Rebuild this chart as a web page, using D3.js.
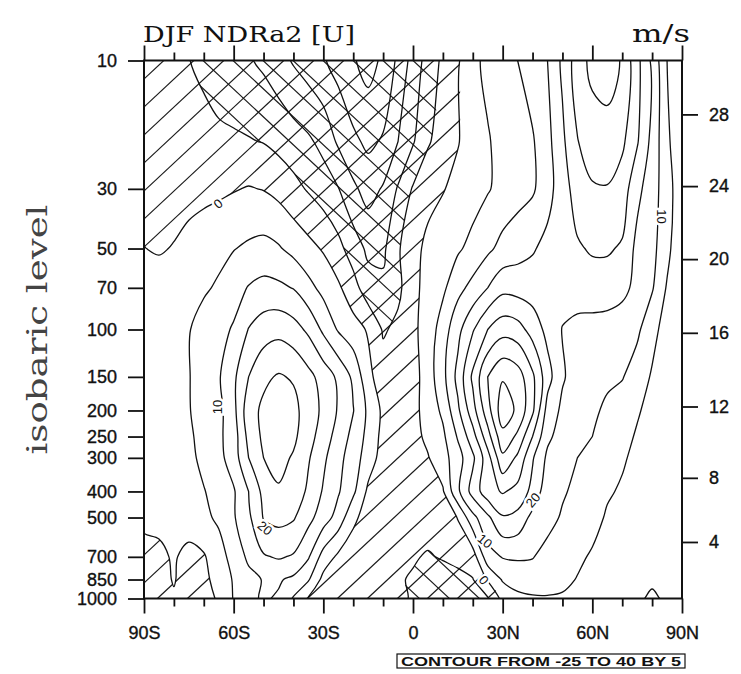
<!DOCTYPE html>
<html lang="en">
<head>
<meta charset="UTF-8">
<title>DJF NDRa2 [U]</title>
<script src="https://cdnjs.cloudflare.com/ajax/libs/d3/7.8.5/d3.min.js"></script>
<style>
    body { margin: 0; background: #fff; }
    svg { display: block; }
    .tick text { font-family: "Liberation Sans", Arial, sans-serif; font-size: 18px; fill: #111; stroke: #111; stroke-width: 0.35; }
    .tick line { stroke: #111; stroke-width: 1.8; }
</style>
</head>
<body>
<div id="chart"></div>
<script>
// latitude grid (deg, 90S -> 90N) and pressure levels (hPa, top -> bottom)
const lats = [-90, -85, -80, -75, -70, -65, -60, -55, -50, -45, -40, -35, -30, -25, -20, -15, -10, -5,
              0, 5, 10, 15, 20, 25, 30, 35, 40, 45, 50, 55, 60, 65, 70, 75, 80, 85, 90];
const levels = [10, 20, 30, 50, 70, 100, 150, 200, 250, 300, 400, 500, 700, 850, 1000];

// zonal mean U (m/s) on each level
const u10   = [-2, -3, -4, -4.9, -6, -7.5, -8.5, -9.5, -11, -13, -15.5, -17.5, -19.5, -22, -24.5, -27, -24, -19,
               -13, -8, -4, -0.5, 3.5, 6.5, 8.5, 10, 12.5, 15, 21, 27.5, 31.5, 32.5, 29.5, 21.5, 14, 5, 1];
const u20   = [-1.5, -2, -2.5, -3, -3.5, -4, -4.3, -4.7, -5.2, -6.5, -7.8, -9.2, -11.5, -15.8, -19, -21, -19.5, -15,
               -10.5, -5.5, -3, -0.3, 2.5, 4.5, 7, 8.5, 9.5, 13.5, 19, 24.8, 27.5, 28, 26, 20.5, 13.5, 6, 1];
const u30   = [-2.5, -2.5, -2.3, -2, -1.5, -1, -0.3, 0.3, -0.2, -1.5, -3.5, -5.5, -7.5, -9.8, -14, -17, -14.5, -9.5,
               -4.5, -2, -0.3, 1.5, 2.8, 4.6, 6.5, 8, 9.3, 13, 18, 22, 24.5, 24.7, 22.5, 16.5, 12, 7.5, 1];
const u50   = [0.1, -0.5, 0.3, 1.8, 3, 4, 4.8, 5.8, 6.5, 5.5, 3.5, 1.5, -0.5, -3.5, -7.5, -11, -11, -5.5,
               -2, 1.5, 3, 4.3, 6.5, 9, 11.5, 13, 14.5, 16.5, 18, 19.5, 20.5, 20.5, 19.5, 13.5, 11.5, 6.5, 0.5];
const u70   = [2, 2.5, 3, 4, 4.5, 5.5, 8, 10.3, 11.5, 11, 9.8, 6.5, 3.5, 0.8, -3, -8, -9, -6,
               -2, 2.5, 4, 8.5, 11.5, 15, 18.5, 18, 17.5, 17, 17, 17.5, 18, 18, 16.5, 13.5, 10.5, 4.5, 0.5];
const u100  = [3, 3.5, 4, 4.8, 6.5, 8.5, 10.5, 15.2, 17.5, 18.5, 17, 14, 9, 4.5, 2, -0.5, -5.5, -4,
               -1, 2, 7.5, 13.5, 19.5, 25, 28, 27, 23, 18.5, 14.8, 13.5, 13, 12.5, 12, 11, 6.5, 3, 1];
const u150  = [3, 3.5, 4, 4.8, 7, 9.5, 14, 20, 24, 25.5, 24.5, 21.5, 18, 14, 9, 1.5, -3, -4,
               -2, 2.5, 8.5, 16.5, 26, 35, 39.5, 37.5, 31, 22, 15.5, 13, 11.5, 11, 10.3, 7.5, 4.5, 2.5, 1];
const u200  = [3, 3.2, 3.8, 4.8, 6.5, 8.5, 13.5, 23, 26, 27.5, 26.5, 22.5, 19, 14.5, 10.2, 4, -1, -3,
               -1.5, 2, 6, 14, 23, 33, 43, 39, 31, 18, 14, 12.5, 11, 9, 7.5, 5.5, 3.5, 2, 1];
const u250  = [2.5, 3, 3.5, 4.5, 6, 9, 12.5, 21.5, 26, 27.5, 26, 22, 17.5, 13, 8.5, 3.5, -1.5, -3,
               -1.5, 1, 4, 10.5, 18, 28, 38.5, 34, 25, 16, 13, 11.5, 10, 8, 6.5, 4.5, 3, 1.5, 1];
const u300  = [2, 2.5, 3, 4, 6, 8.5, 12.5, 20, 25, 26.5, 24.5, 20.5, 16, 11.5, 7.5, 2.5, -2, -3,
               -2, -0.3, 3, 8, 14, 23, 34, 29, 20.5, 14, 11.5, 10, 8.5, 6.5, 5.5, 4, 2.5, 1.5, 1];
const u400  = [1.5, 2, 2.5, 3.5, 4.8, 6.5, 9.5, 15, 21.5, 24.5, 23.5, 19, 14.5, 10.5, 6, -1, -3.5, -3.5,
               -2.5, -1.5, -0.5, 9, 17, 23, 25.5, 23.5, 18.5, 12, 10.5, 9, 7.5, 5.5, 4.5, 3, 2, 1.5, 1];
const u500  = [1, 1.2, 1.5, 2.5, 4, 5.8, 9.5, 14, 20.3, 21.5, 20.5, 16.5, 12.5, 8, 1, -2, -3.5, -3.5,
               -3, -2.5, -3, 0.2, 8.5, 14, 19.5, 18.5, 13.5, 11.5, 9.5, 8, 6.5, 4.5, 3.5, 2.5, 1.5, 1, 1];
const u700  = [-1.5, -1, 0.5, -1.5, -0.5, 3, 6.8, 11, 14.5, 15.5, 14.5, 10.5, 3, -1, -2.5, -3, -3.5, -4,
               -4.5, -5.5, -4.5, -3, -2.5, 8, 10.3, 10.5, 10.2, 8.5, 7, 5.8, 4.5, 3.5, 2.5, 1.5, 1, 0.5, 0.5];
const u850  = [-2, -1.5, 0.3, -2, -1, 1.5, 5.5, 8.5, 10.3, 10.5, 9, 5.5, -1.5, -3, -4, -4, -4.5, -4.5,
               -5.5, -7, -7.5, -7, -5.2, 0.5, 5.5, 7.5, 8, 7.5, 6, 4.8, 4, 3, 2, 1, 0.3, 0.5, 0.5];
const u1000 = [-2, -2, -0.5, -2.5, -1.5, 0.5, 5.3, 9, 10.5, 9.5, 4.5, -0.5, -3, -3.5, -4, -4, -4.5, -4.6,
               -5.2, -6.5, -7.5, -7.5, -7, -5.5, 1.5, 3.5, 4.3, 4.5, 4.5, 4.2, 3.5, 2.5, 1.5, 0.3, -0.3, 0.3, 0.5];

const contourLevels = [-25, -20, -15, -10, -5, 0, 5, 10, 15, 20, 25, 30, 35, 40];
const hatchLevels = [0, -5];   // "/" below the first, cross-hatch below the second

const latTicks = [-90, -60, -30, 0, 30, 60, 90];
const latLabels = ["90S", "60S", "30S", "0", "30N", "60N", "90N"];
const latMinor = [-80, -70, -50, -40, -20, -10, 10, 20, 40, 50, 70, 80];
const pTicks = [10, 30, 50, 70, 100, 150, 200, 250, 300, 400, 500, 700, 850, 1000];
const zTicks = [4, 8, 12, 16, 20, 24, 28];

// contour labels: [lat, hPa, text, rotation]
const contourLabels = [
    [-65.2, 34, "0", -40],
    [-65.6, 194, "10", -90],
    [-49.5, 547, "20", 40],
    [40.1, 430, "20", -50],
    [24.1, 611, "10", 40],
    [23.7, 853, "0", 50],
    [83.3, 38, "10", 90]
];

const width = 741, height = 674;
const margin = { top: 60.5, right: 59, bottom: 75.5, left: 144 };
const x0 = margin.left, x1 = width - margin.right;
const y0 = margin.top, y1 = height - margin.bottom;

const svg = d3.select("#chart").append("svg")
    .attr("width", width)
    .attr("height", height)
    .style("background", "#fff");

const x = d3.scaleLinear().domain([-90, 90]).range([x0, x1]);
const y = d3.scaleLog().domain([10, 1000]).range([y0, y1]);

// standard atmosphere height (km) -> pressure (hPa), for the right axis
function stdPressure(z) {
    if (z <= 11) return 1013.25 * Math.pow(1 - 0.0225577 * z, 5.25588);
    if (z <= 20) return 226.321 * Math.exp(-0.157688 * (z - 11));
    return 54.7489 * Math.pow(216.65 / (216.65 + (z - 20)), 34.1632);
}

const rows = [u10, u20, u30, u50, u70, u100, u150, u200, u250, u300, u400, u500, u700, u850, u1000];
const nx = lats.length, ny = levels.length;
const values = rows.flat();

// d3.contours grid coords (value i sits at i + 0.5) -> pixels
const dLat = lats[1] - lats[0];
const gx = c => x(lats[0] + (c - 0.5) * dLat);
const gy = c => {
    const r = c - 0.5;
    const j = Math.max(0, Math.min(ny - 2, Math.floor(r)));
    const t = r - j;
    const a = Math.log(levels[j]), b = Math.log(levels[j + 1]);
    return y(Math.exp(a + t * (b - a)));
};
const ringLine = d3.line().curve(d3.curveCatmullRomClosed.alpha(0.5));
const ringPath = mp => mp.coordinates.map(poly => poly.map(ring =>
    ringLine(ring.slice(0, -1).map(([cx, cy]) => [gx(cx), gy(cy)]))).join("")).join("");

const defs = svg.append("defs");
defs.append("clipPath").attr("id", "plot-area")
    .append("rect")
    .attr("x", x0).attr("y", y0)
    .attr("width", x1 - x0).attr("height", y1 - y0);

// negative regions for the hatching
const negative = d3.contours().size([nx, ny])
    .thresholds(hatchLevels.map(v => -v))(values.map(v => -v));
negative.forEach((mp, i) => {
    defs.append("clipPath").attr("id", "neg" + i)
        .append("path")
        .attr("clip-rule", "evenodd")
        .attr("d", ringPath(mp));
});

const plot = svg.append("g").attr("clip-path", "url(#plot-area)");

// hatch lines
const hx = 30, hy = 28, reach = 25;
const hatchStarts = d3.range(-20, 32);
plot.append("g")
    .attr("clip-path", "url(#neg0)")
    .selectAll("line")
    .data(hatchStarts)
    .join("line")
    .attr("x1", k => x0 + 13.4 + k * hx)
    .attr("y1", y1)
    .attr("x2", k => x0 + 13.4 + k * hx + hx * reach)
    .attr("y2", y1 - hy * reach)
    .attr("stroke", "#1a1a1a")
    .attr("stroke-width", 1.2);

plot.append("g")
    .attr("clip-path", "url(#neg1)")
    .selectAll("line")
    .data(hatchStarts)
    .join("line")
    .attr("x1", k => x0 + 119 + k * hx - hx * reach)
    .attr("y1", y0 - hy * reach)
    .attr("x2", k => x0 + 119 + k * hx + hx * reach)
    .attr("y2", y0 + hy * reach)
    .attr("stroke", "#1a1a1a")
    .attr("stroke-width", 1.2);

// contour lines
const isolines = d3.contours().size([nx, ny]).thresholds(contourLevels)(values);
plot.append("g")
    .selectAll("path")
    .data(isolines)
    .join("path")
    .attr("d", ringPath)
    .attr("fill", "none")
    .attr("stroke", "#111")
    .attr("stroke-width", 1.3);

// contour labels
plot.append("g")
    .selectAll("text")
    .data(contourLabels)
    .join("text")
    .attr("transform", d => `translate(${x(d[0])},${y(d[1])}) rotate(${d[3]})`)
    .attr("text-anchor", "middle")
    .attr("dy", "0.36em")
    .attr("stroke", "#fff")
    .attr("stroke-width", 5)
    .attr("paint-order", "stroke")
    .style("font-family", "'Liberation Sans', Arial, sans-serif")
    .style("font-size", "13px")
    .attr("fill", "#111")
    .text(d => d[2]);

// axes
const noDomain = g => g.select(".domain").remove();

svg.append("g")
    .attr("transform", `translate(0,${y1})`)
    .call(d3.axisBottom(x).tickValues(latTicks).tickSize(15).tickPadding(13)
        .tickFormat((d, i) => latLabels[i]))
    .call(noDomain);
svg.append("g")
    .attr("transform", `translate(0,${y1})`)
    .call(d3.axisBottom(x).tickValues(latMinor).tickSize(8).tickFormat(""))
    .call(noDomain);
svg.append("g")
    .attr("transform", `translate(0,${y0})`)
    .call(d3.axisTop(x).tickValues(latTicks).tickSize(15).tickFormat(""))
    .call(noDomain);
svg.append("g")
    .attr("transform", `translate(0,${y0})`)
    .call(d3.axisTop(x).tickValues(latMinor).tickSize(8).tickFormat(""))
    .call(noDomain);

svg.append("g")
    .attr("transform", `translate(${x0},0)`)
    .call(d3.axisLeft(y).tickValues(pTicks).tickSize(16).tickPadding(11)
        .tickFormat(d3.format("d")))
    .call(noDomain);

svg.append("g")
    .attr("transform", `translate(${x1},0)`)
    .call(d3.axisRight(y).tickValues(zTicks.map(stdPressure)).tickSize(16).tickPadding(11)
        .tickFormat((d, i) => zTicks[i]))
    .call(noDomain);

svg.append("rect")
    .attr("x", x0).attr("y", y0)
    .attr("width", x1 - x0).attr("height", y1 - y0)
    .attr("fill", "none")
    .attr("stroke", "#111")
    .attr("stroke-width", 2);

// titles
svg.append("text")
    .attr("x", x0 - 1).attr("y", 42)
    .style("font-family", "'DejaVu Serif', 'Liberation Serif', serif")
    .style("font-size", "22px")
    .attr("textLength", 212)
    .attr("lengthAdjust", "spacingAndGlyphs")
    .attr("fill", "#111")
    .text("DJF NDRa2 [U]");

svg.append("text")
    .attr("x", 690).attr("y", 42)
    .attr("text-anchor", "end")
    .style("font-family", "'DejaVu Serif', 'Liberation Serif', serif")
    .style("font-size", "24px")
    .attr("textLength", 58)
    .attr("lengthAdjust", "spacingAndGlyphs")
    .attr("fill", "#111")
    .text("m/s");

svg.append("text")
    .attr("transform", `translate(47,${(y0 + y1) / 2}) rotate(-90)`)
    .attr("text-anchor", "middle")
    .style("font-family", "'DejaVu Serif', 'Liberation Serif', serif")
    .style("font-size", "27px")
    .attr("textLength", 250)
    .attr("lengthAdjust", "spacingAndGlyphs")
    .attr("fill", "#444")
    .text("isobaric level");

// contour range box
const box = svg.append("g").attr("transform", "translate(397,654)");
box.append("rect")
    .attr("width", 288).attr("height", 14)
    .attr("fill", "#fff")
    .attr("stroke", "#111")
    .attr("stroke-width", 1.2);
box.append("text")
    .attr("x", 144).attr("y", 11.5)
    .attr("text-anchor", "middle")
    .attr("textLength", 280)
    .attr("lengthAdjust", "spacingAndGlyphs")
    .style("font-family", "'Liberation Sans', Arial, sans-serif")
    .style("font-size", "12.5px")
    .style("font-weight", "bold")
    .attr("fill", "#111")
    .text("CONTOUR FROM -25 TO 40 BY 5");
</script>
</body>
</html>
